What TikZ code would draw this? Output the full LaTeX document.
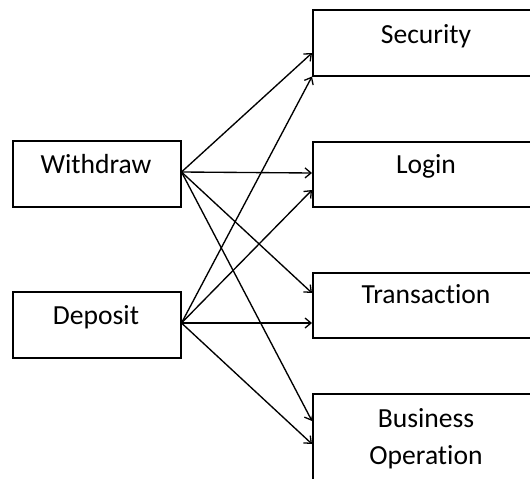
\documentclass[tikz,border=0pt]{standalone}
\usepackage{fontspec}
\setmainfont[Ligatures={NoCommon}]{Carlito}
\usetikzlibrary{arrows.meta,calc}
\begin{document}
\begin{tikzpicture}[x=1pt,y=-1pt,
  box/.style={draw,line width=1.5pt,rectangle,inner sep=0pt,anchor=north west},
  lbl/.style={anchor=base,font=\fontsize{27.6}{36}\selectfont,inner sep=0pt},
  conn/.style={line width=1.35pt,-{Straight Barb[length=6pt,width=10pt,line width=1.3pt]}}]
\clip (0,0) rectangle (530,479);
\fill[white] (0,0) rectangle (530,479);
% left boxes
\node[box,minimum width=168pt,minimum height=66pt] (wd) at (12,140) {};
\node[box,minimum width=168pt,minimum height=66pt] (dep) at (12,291) {};
% right boxes
\node[box,minimum width=250pt,minimum height=66pt] (sec) at (312,9) {};
\node[box,minimum width=250pt,minimum height=65pt] (log) at (312,141) {};
\node[box,minimum width=250pt,minimum height=65pt] (tra) at (312,272) {};
\node[box,minimum width=250pt,minimum height=110pt] (bus) at (312,393) {};
% labels
\node[lbl] (twd) at ($(wd.north west)+(84,33)$) {Withdraw};
\node[lbl] (tdep) at ($(dep.north west)+(84,33)$) {Deposit};
\node[lbl] (tsec) at ($(sec.north west)+(114,34)$) {Security};
\node[lbl] (tlog) at ($(log.north west)+(114,32)$) {Login};
\node[lbl] (ttra) at ($(tra.north west)+(114,31)$) {Transaction};
\node[lbl] (tbus1) at ($(bus.north west)+(114,34)$) {Business};
\node[lbl] (tbus2) at ($(bus.north west)+(114,71)$) {Operation};
% target points
\coordinate (s1) at ($(sec.north west)+(0,44)$);
\coordinate (s2) at (sec.south west);
\coordinate (l1) at ($(log.north west)+(0,32)$);
\coordinate (l2) at ($(log.north west)+(0,49)$);
\coordinate (t1) at ($(tra.north west)+(0,21)$);
\coordinate (t2) at ($(tra.north west)+(0,51)$);
\coordinate (b1) at ($(bus.north west)+(0,28)$);
\coordinate (b2) at ($(bus.north west)+(0,51)$);
\coordinate (ws) at ($(wd.north east)+(0,32)$);
\coordinate (ds) at ($(dep.north east)+(0,32)$);
% connectors
\draw[conn] (ws) -- (s1);
\draw[conn] (ws) -- (l1);
\draw[conn] (ws) -- (t1);
\draw[conn] (ws) -- (b1);
\draw[conn] (ds) -- (s2);
\draw[conn] (ds) -- (l2);
\draw[conn] (ds) -- (t2);
\draw[conn] (ds) -- (b2);
\end{tikzpicture}
\end{document}
